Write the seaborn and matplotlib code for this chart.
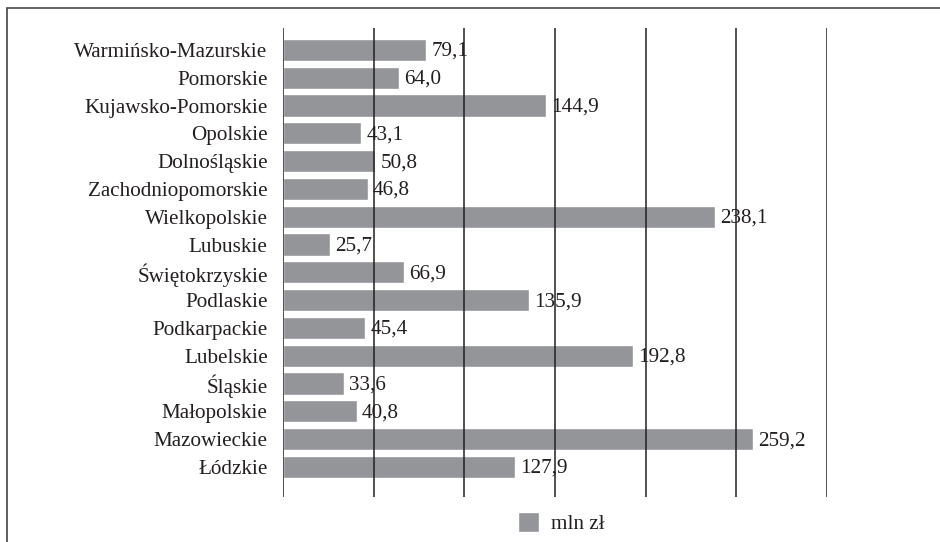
import matplotlib
matplotlib.use("Agg")
import matplotlib.pyplot as plt
import seaborn as sns
import pandas as pd
from matplotlib.patches import Rectangle

regions = ["Warmińsko-Mazurskie", "Pomorskie", "Kujawsko-Pomorskie", "Opolskie",
           "Dolnośląskie", "Zachodniopomorskie", "Wielkopolskie", "Lubuskie",
           "Świętokrzyskie", "Podlaskie", "Podkarpackie", "Lubelskie", "Śląskie",
           "Małopolskie", "Mazowieckie", "Łódzkie"]
values = [79.1, 64.0, 144.9, 43.1, 50.8, 46.8, 238.1, 25.7, 66.9, 135.9,
          45.4, 192.8, 33.6, 40.8, 259.2, 127.9]
series_name = "mln zł"
x_ticks = [0, 50, 100, 150, 200, 250, 300]

df = pd.DataFrame({"region": regions, "value": values})

sns.set_theme(style="white")
plt.rcParams["font.family"] = ["Liberation Serif", "DejaVu Serif"]

W, H = 940, 542
fs = 15.2
fig = plt.figure(figsize=(W / 100, H / 100), dpi=100)
ax = fig.add_axes([283 / W, 1 - 497 / H, (827 - 283) / W, (497 - 28) / H])

bar_color = "#939598"
sns.barplot(data=df, x="value", y="region", orient="h", color=bar_color,
            width=0.8, ax=ax, label=series_name, saturation=1)

ax.set_xlim(0, 300)
ax.set_ylim(16.08, -0.79)
ax.set_xticks(x_ticks)
ax.set_xticklabels([])
ax.tick_params(axis="x", length=0)
ax.tick_params(axis="y", length=0, pad=11, labelsize=fs, labelcolor="#231f20")
ax.set_xlabel("")
ax.set_ylabel("")
for s in ax.spines.values():
    s.set_visible(False)
ax.xaxis.grid(True, color="#231f20", linewidth=1.1)
ax.yaxis.grid(False)
ax.set_axisbelow(False)
for line in ax.get_xgridlines():
    line.set_zorder(0.5)

for i, v in enumerate(values):
    ax.text(v + 2.8, i + 0.05, f"{v:.1f}".replace(".", ","), va="center", ha="left",
            fontsize=fs, color="#231f20", zorder=5)

leg = ax.legend(loc="center", bbox_to_anchor=(561 / W, 1 - 523 / H),
                bbox_transform=fig.transFigure, frameon=False, fontsize=fs,
                handlelength=1.0, handleheight=1.05, handletextpad=0.55)
for t in leg.get_texts():
    t.set_color("#231f20")

fig.patches.append(Rectangle((7 / W, -0.05), 1.1, 1 - 8 / H + 0.05, transform=fig.transFigure,
                             fill=False, edgecolor="#444444", linewidth=1.2, figure=fig))

fig.savefig("out.png", dpi=100)
